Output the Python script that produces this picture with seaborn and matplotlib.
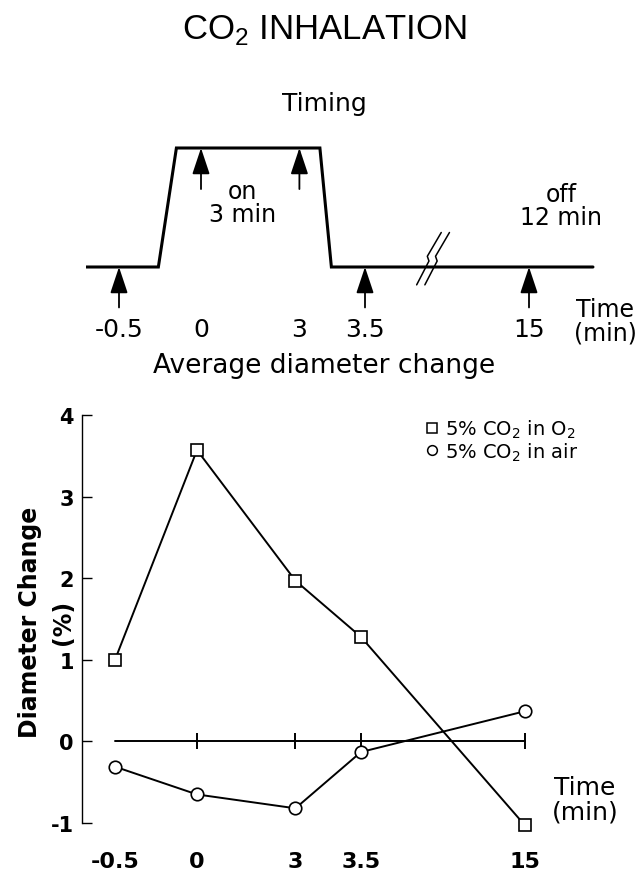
import pandas as pd
import numpy as np
import matplotlib
matplotlib.use("Agg")
import matplotlib.pyplot as plt
from matplotlib.lines import Line2D
import seaborn as sns

# Dados (tempo em min, variação do diâmetro em %)
times = ["-0.5", "0", "3", "3.5", "15"]
x_pos = [0, 1, 2.2, 3, 5]          # posição no eixo (eixo quebrado, não linear)
co2_in_o2 = [1.0, 3.57, 1.97, 1.28, -1.03]
co2_in_air = [-0.31, -0.65, -0.82, -0.13, 0.37]

# Esquema do tempo de inalação (0 = off, 1 = on)
pulse_x = [-0.40, 0.48, 0.70, 2.45, 2.59, 5.78]
pulse_level = [0, 0, 1, 1, 0, 0]
gas_on = [False, True, True, False, False]

df = pd.DataFrame({
    "pos": x_pos * 2,
    "change": co2_in_o2 + co2_in_air,
    "gas": ["o2"] * 5 + ["air"] * 5,
})

sns.set_style("white")
plt.rcParams["font.family"] = ["DejaVu Sans"]
plt.rcParams["text.color"] = "black"
plt.rcParams["xtick.color"] = "black"
plt.rcParams["ytick.color"] = "black"
plt.rcParams["mathtext.fontset"] = "custom"

W, H = 636, 879
def fx(px):
    return px / W
def fy(py):
    return 1 - py / H

fig = plt.figure(figsize=(W / 100, H / 100), dpi=100)

# Títulos
fig.text(fx(324), fy(30), "CO$_\\mathregular{2}$ INHALATION", ha="center", va="center",
         fontsize=25, family="Liberation Sans")
fig.text(fx(324), fy(104), "Timing", ha="center", va="center", fontsize=18)
fig.text(fx(324), fy(366), "Average diameter change", ha="center", va="center", fontsize=19)

# ---- diagrama de tempo ----
unit = 82.0
xlim = (-0.4, 5.8)
ax_w = (xlim[1] - xlim[0]) * unit
t_left = 119 + xlim[0] * unit
t_ylim = (-0.6, 1.3)
t_unit = 119.0
t_top = 268 - t_ylim[1] * t_unit
t_bot = 268 - t_ylim[0] * t_unit
ax_t = fig.add_axes([fx(t_left), fy(t_bot), ax_w / W, (t_bot - t_top) / H])
ax_t.set_xlim(xlim)
ax_t.set_ylim(t_ylim)
ax_t.axis("off")
ax_t.plot(pulse_x, pulse_level, color="black", lw=2.2, solid_joinstyle="miter")

for p, lab, on in zip(x_pos, times, gas_on):
    if on:
        y0, y1 = 0.655, 1.0
    else:
        y0, y1 = -0.34, 0.0
    ax_t.annotate("", xy=(p, y1), xytext=(p, y0),
                  arrowprops=dict(arrowstyle="-|>,head_length=0.9,head_width=0.3",
                                  mutation_scale=18, color="black", lw=1.3,
                                  shrinkA=0, shrinkB=0))
    ax_t.text(p, -0.52, lab, ha="center", va="center", fontsize=18)

# quebra do eixo
for a in [3.63, 3.73]:
    ax_t.plot([a, a + 0.15, a + 0.13, a + 0.30], [-0.15, 0.05, 0.09, 0.29],
              color="black", lw=1.1)

ax_t.text(1.51, 0.54, "on\n3 min", ha="center", va="center", fontsize=17, linespacing=0.95)
ax_t.text(5.39, 0.52, "off\n12 min", ha="center", va="center", fontsize=17, linespacing=0.95)
fig.text(fx(605), fy(322), "Time\n(min)", ha="center", va="center", fontsize=17,
         linespacing=1.0)

# ---- gráfico principal ----
m_left = 115 + xlim[0] * unit
ax = fig.add_axes([fx(m_left), fy(824), ax_w / W, (824 - 416) / H])
ax.set_xlim(xlim)
ax.set_ylim(-1, 4)

ax.plot([x_pos[0], x_pos[-1]], [0, 0], color="black", lw=1.4, zorder=2)
ax.plot(x_pos[1:], [0] * 4, linestyle="none", marker="|", markersize=12,
        markeredgewidth=1.4, color="black", zorder=2)

sns.lineplot(data=df, x="pos", y="change", style="gas", markers=["s", "o"],
             dashes=False, color="black", lw=1.4, markersize=9,
             markerfacecolor="white", markeredgecolor="black", markeredgewidth=1.2,
             legend=False, sort=False, errorbar=None, ax=ax, clip_on=False, zorder=3)

for s in ["top", "right", "bottom"]:
    ax.spines[s].set_visible(False)
ax.spines["left"].set_linewidth(1.0)
ax.spines["left"].set_color("black")
ax.set_yticks([-1, 0, 1, 2, 3, 4])
ax.set_yticklabels(["-1", "0", "1", "2", "3", "4"], fontweight="bold")
ax.tick_params(axis="y", direction="in", length=7, width=1.0, labelsize=15, pad=6,
               left=True)
ax.set_xticks(x_pos)
ax.set_xticklabels(times, fontweight="bold")
ax.tick_params(axis="x", length=0, labelsize=16, pad=20)
ax.set_xlabel("")
ax.set_ylabel("")

fig.text(fx(30), fy(622), "Diameter Change", rotation=90, ha="center", va="center",
         fontsize=17, fontweight="bold")
fig.text(fx(63), fy(622), "(%)", rotation=90, ha="center", va="center", fontsize=17,
         fontweight="bold")
fig.text(fx(585), fy(800), "Time\n(min)", ha="center", va="center", fontsize=18,
         linespacing=1.05)

handles = [
    Line2D([], [], linestyle="none", marker="s", markersize=7, markerfacecolor="white",
           markeredgecolor="black", markeredgewidth=1.1),
    Line2D([], [], linestyle="none", marker="o", markersize=7, markerfacecolor="white",
           markeredgecolor="black", markeredgewidth=1.1),
]
labels = ["5% CO$_\\mathregular{2}$ in O$_\\mathregular{2}$",
          "5% CO$_\\mathregular{2}$ in air"]
ax.legend(handles, labels, loc="upper left", bbox_to_anchor=(fx(426), fy(419)),
          bbox_transform=fig.transFigure, frameon=False, fontsize=14,
          handlelength=0.6, handletextpad=0.4, labelspacing=0.0, borderpad=0,
          borderaxespad=0)

fig.savefig("out.png", dpi=100)
